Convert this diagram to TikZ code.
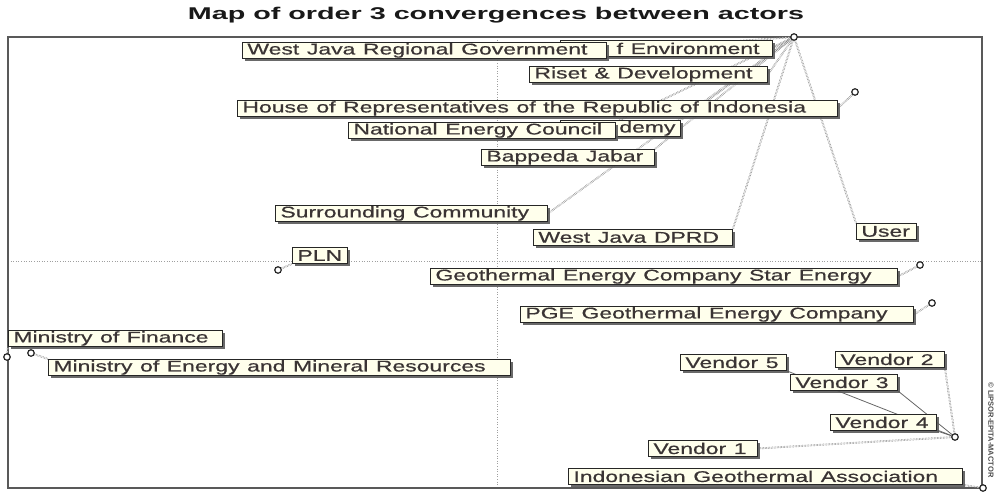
\documentclass[tikz,border=0pt]{standalone}
\usepackage{fontspec}
\setmainfont{Liberation Sans}
\newfontfamily\lblfam{Liberation Sans}[FakeBold=0.5]
\usetikzlibrary{shadows}
\definecolor{cream}{HTML}{FFFFEC}
\definecolor{txt}{HTML}{3A3434}
\newcommand{\lblfont}{\lblfam\fontsize{15.5}{16}\selectfont}
\newcommand{\lt}[1]{\scalebox{1.48}[1]{#1}}
\pgfdeclarelayer{bg}
\pgfdeclarelayer{conn}
\pgfsetlayers{bg,conn,main}
\tikzset{
  lab/.style={draw=black!85, line width=0.9pt, fill=cream, inner xsep=5pt, inner ysep=0pt,
    minimum height=16pt, anchor=north west, align=left, font=\lblfont, text=txt,
    drop shadow={shadow xshift=2.8pt, shadow yshift=-2.8pt, fill=black!65, opacity=0.9}},
  pt/.style={circle, draw=black!85, line width=1.2pt, fill=white, inner sep=0pt, minimum size=6.5pt},
  conn/.style={draw=black!60, densely dotted, line width=0.5pt, double=white, double distance=0.8pt},
  solidconn/.style={draw=black!60, line width=0.8pt},
}
\newcommand{\mklab}[6][]{%
  \pgfmathsetmacro{\labw}{#5-#3-10}%
  \node[lab, text width=\labw pt, #1] (#2) at (#3,#4) {#6};}
\begin{document}
\begin{tikzpicture}[x=1pt,y=-1pt]
\useasboundingbox (0,0) rectangle (1000,492);
\node[font=\bfseries\fontsize{17}{17}\selectfont, text=black!90] (title) at (496,15)
  {\scalebox{1.69}[1]{Map of order 3 convergences between actors}};
\begin{pgfonlayer}{bg}
  \draw[gray!75, dotted, line width=0.6pt] (497,37) -- (497,488);
  \draw[gray!75, dotted, line width=0.6pt] (8,261) -- (982,261);
  \draw[line width=1.5pt, black!65] (8,37) rectangle (982,488);
\end{pgfonlayer}
% labels
\mklab[align=right]{env}{560}{40}{772}{\lt{f Environment}\hspace*{8pt}}
\mklab{wjrg}{242}{42}{606}{\lt{West Java Regional Government}}
\mklab{riset}{529}{66}{767}{\lt{Riset \& Development}}
\mklab{hor}{237}{100}{837}{\lt{House of Representatives of the Republic of Indonesia}}
\mklab[align=right]{acad}{560}{120}{680}{\lt{demy}}
\mklab{nec}{348}{122}{615}{\lt{National Energy Council}}
\mklab{bappeda}{481}{149}{654}{\lt{Bappeda Jabar}}
\mklab{surr}{275}{205}{547}{\lt{Surrounding Community}}
\mklab{dprd}{533}{229}{732}{\lt{West Java DPRD}}
\mklab{user}{856}{223}{916}{\lt{User}}
\mklab{pln}{292}{247}{347}{\lt{PLN}}
\mklab{star}{430}{268}{897}{\lt{Geothermal Energy Company Star Energy}}
\mklab{pge}{520}{306}{913}{\lt{PGE Geothermal Energy Company}}
\mklab{mof}{8}{330}{222}{\lt{Ministry of Finance}}
\mklab{memr}{48}{359}{510}{\lt{Ministry of Energy and Mineral Resources}}
\mklab{vfive}{680}{354}{786}{\lt{Vendor 5}}
\mklab{vtwo}{835}{351}{944}{\lt{Vendor 2}}
\mklab{vthree}{790}{374}{897}{\lt{Vendor 3}}
\mklab{vfour}{830}{414}{936}{\lt{Vendor 4}}
\mklab{vone}{648}{440}{757}{\lt{Vendor 1}}
\mklab{iga}{568}{468}{962}{\lt{Indonesian Geothermal Association}}
% points
\node[pt] (tc) at (794,37) {};
\node[pt] (hc) at (855,92) {};
\node[pt] (plnc) at (278,270) {};
\node[pt] (starc) at (920,265) {};
\node[pt] (pgec) at (932,303) {};
\node[pt] (mofc) at (7,357) {};
\node[pt] (memrc) at (31,353) {};
\node[pt] (vc) at (955,437) {};
\node[pt] (igac) at (983,488) {};
\node[rotate=-90, font=\bfseries\fontsize{7.5}{7.5}\selectfont, text=black!70] (copy) at (991,430) {© LIPSOR-EPITA-MACTOR};
% connectors
\begin{pgfonlayer}{conn}
  \draw[conn] (tc) -- (env.east);
  \draw[conn] (tc) -- (wjrg.east);
  \draw[conn] (tc) -- (riset.east);
  \draw[conn] (tc) -- (acad.north east);
  \draw[conn] (tc) -- (nec.north east);
  \draw[conn] (tc) -- (bappeda.north east);
  \draw[conn] (tc) -- (surr.east);
  \draw[conn] (tc) -- (dprd.north east);
  \draw[conn] (tc) -- (user.north west);
  \draw[conn] (hc) -- (hor.east);
  \draw[conn] (plnc) -- (pln.south west);
  \draw[conn] (starc) -- (star.east);
  \draw[conn] (pgec) -- (pge.east);
  \draw[conn] (mofc) -- (mof.south west);
  \draw[conn] (memrc) -- (memr.north west);
  \draw[conn] (igac) -- (iga.south east);
  \draw[conn] (vc) -- (vone.east);
  \draw[conn] (vc) -- (vtwo.south east);
  \draw[solidconn] (vc) -- (vthree.south east);
  \draw[solidconn] (vc) -- (vfive.south east);
  \draw[solidconn] (vc) -- (vfour.south east);
\end{pgfonlayer}
\end{tikzpicture}
\end{document}
